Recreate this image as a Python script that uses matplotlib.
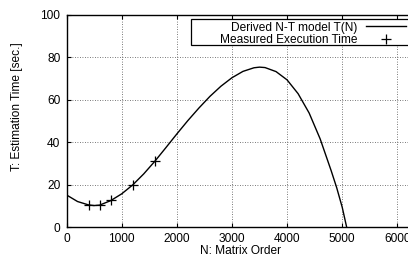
import matplotlib
matplotlib.use("Agg")
import matplotlib.pyplot as plt
from matplotlib.patches import Rectangle

# Model curve
N_model = [0, 200, 400, 500, 600, 800, 1000, 1200, 1400, 1600, 1800, 2000, 2200,
           2400, 2600, 2800, 3000, 3200, 3400, 3500, 3600, 3800, 4000, 4200,
           4400, 4600, 4800, 4900, 5000, 5080]
T_model = [15.1, 12.0, 10.4, 10.1, 10.3, 12.4, 15.6, 19.8, 25.0, 30.9, 37.3, 43.8, 50.1,
           56.0, 61.5, 66.3, 70.3, 73.3, 75.0, 75.3, 75.1, 73.2, 69.3, 62.8,
           53.7, 41.5, 26.5, 18.5, 9.3, 0.0]

# Measured points
N_meas = [400, 600, 800, 1200, 1600]
T_meas = [10.2, 10.2, 12.6, 19.8, 30.9]

x_ticks = [0, 1000, 2000, 3000, 4000, 5000, 6000]
y_ticks = [0, 20, 40, 60, 80, 100]

plt.rcParams['font.family'] = ['Liberation Sans', 'DejaVu Sans']
FS = 8.6

W, H = 408, 256
fig = plt.figure(figsize=(W / 100, H / 100), dpi=100)
ax_l, ax_r, ax_t, ax_b = 66.5, 452.5, 14.7, 227.0
ax = fig.add_axes([ax_l / W, (H - ax_b) / H, (ax_r - ax_l) / W, (ax_b - ax_t) / H])

ax.plot(N_model, T_model, color='black', lw=1.0, label='Derived N-T model T(N)', zorder=3)
ax.plot(N_meas, T_meas, linestyle='none', marker='+', markersize=7, markeredgewidth=0.9,
        color='black', label='Measured Execution Time', zorder=3)

ax.set_xlim(0, 7000)
ax.set_ylim(0, 100)
ax.set_xticks(x_ticks)
ax.set_yticks(y_ticks)
ax.tick_params(direction='in', length=3, width=0.8, top=True, right=True,
               labelsize=FS, pad=4.5, colors='black')
ax.grid(True, color='0.3', linestyle=(0, (1, 2)), linewidth=0.6)
for s in ax.spines.values():
    s.set_linewidth(1.0)
    s.set_color('black')

ax.set_xlabel('N: Matrix Order', fontsize=FS)
ax.xaxis.set_label_coords((240 - ax_l) / (ax_r - ax_l), (ax_b - 245) / (ax_b - ax_t))
ax.set_ylabel('T: Estimation Time [sec.]', fontsize=FS)
ax.yaxis.set_label_coords((23 - ax_l) / (ax_r - ax_l), (ax_b - 107) / (ax_b - ax_t))

# legend box
box = Rectangle((190.7 / W, (H - 45.3) / H), (430 - 190.7) / W, (45.3 - 19.3) / H,
                transform=fig.transFigure, facecolor='white', edgecolor='black',
                linewidth=0.9, clip_on=False, zorder=4)
ax.add_patch(box)

leg = ax.legend(loc='upper right', bbox_to_anchor=(405.7 / W, (H - 21.5) / H),
                bbox_transform=fig.transFigure, frameon=False, markerfirst=False,
                fontsize=FS, handlelength=3.33, handletextpad=0.7, borderpad=0,
                labelspacing=0.05, borderaxespad=0)
leg.set_zorder(5)

fig.savefig('out.png', dpi=100)
